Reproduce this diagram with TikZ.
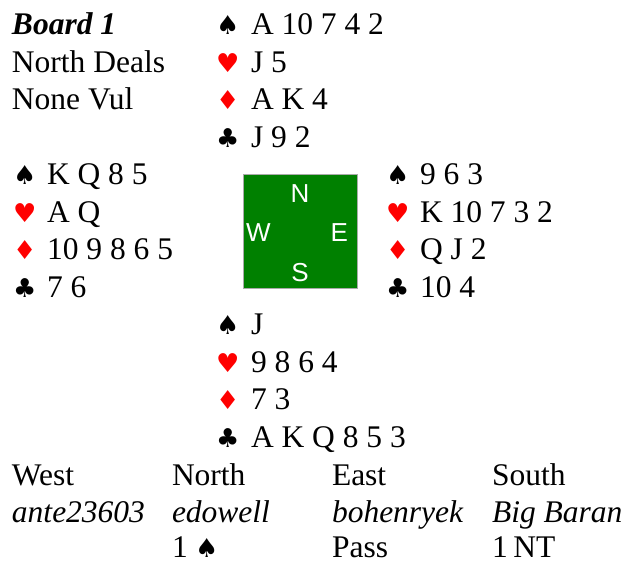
\documentclass[tikz,border=0pt]{standalone}
\usepackage{fontspec}
\setmainfont{Liberation Serif}
\newfontfamily\suitfont{DejaVu Sans}
\newfontfamily\compassfont{Liberation Sans}
\definecolor{felt}{HTML}{008000}
\definecolor{feltedge}{HTML}{AAAAAA}
\definecolor{suitred}{HTML}{FF0000}
\tikzset{
  txt/.style={anchor=base west, inner sep=0pt, outer sep=0pt, font=\fontsize{31.5}{37}\selectfont},
  suitsym/.style={anchor=base west, inner sep=0pt, outer sep=0pt, font=\suitfont\fontsize{26}{30}\selectfont},
  redsuit/.style={suitsym, text=suitred},
  compass/.style={inner sep=0pt, outer sep=0pt, text=white, font=\compassfont\fontsize{26}{30}\selectfont},
  table/.style={fill=felt, draw=feltedge, line width=1pt}
}
\begin{document}
\begin{tikzpicture}[x=1pt,y=1pt]
\useasboundingbox (0,0) rectangle (626,-563);
% header
\node[txt, font=\fontsize{31.5}{37}\selectfont\bfseries\itshape] (board) at (12,-34.5) {Board 1};
\node[txt] (deals) at (12,-72) {North Deals};
\node[txt] (vul) at (12,-109.5) {None Vul};
% North
\node[suitsym] (ns) at (216,-34.5) {♠};
\node[txt] (nst) at (251,-34.5) {A 10 7 4 2};
\node[redsuit] (nh) at (216,-72) {♥};
\node[txt] (nht) at (251,-72) {J 5};
\node[redsuit] (nd) at (216,-109.5) {♦};
\node[txt] (ndt) at (251,-109.5) {A K 4};
\node[suitsym] (nc) at (216,-147) {♣};
\node[txt] (nct) at (251,-147) {J 9 2};
% West
\node[suitsym] (ws) at (13,-184.5) {♠};
\node[txt] (wst) at (47,-184.5) {K Q 8 5};
\node[redsuit] (wh) at (13,-222) {♥};
\node[txt] (wht) at (47,-222) {A Q};
\node[redsuit] (wd) at (13,-259.5) {♦};
\node[txt] (wdt) at (47,-259.5) {10 9 8 6 5};
\node[suitsym] (wc) at (13,-297) {♣};
\node[txt] (wct) at (47,-297) {7 6};
% East
\node[suitsym] (es) at (386,-184.5) {♠};
\node[txt] (est) at (420,-184.5) {9 6 3};
\node[redsuit] (eh) at (386,-222) {♥};
\node[txt] (eht) at (420,-222) {K 10 7 3 2};
\node[redsuit] (ed) at (386,-259.5) {♦};
\node[txt] (edt) at (420,-259.5) {Q J 2};
\node[suitsym] (ec) at (386,-297) {♣};
\node[txt] (ect) at (420,-297) {10 4};
% South
\node[suitsym] (ss) at (216,-334.5) {♠};
\node[txt] (sst) at (251,-334.5) {J};
\node[redsuit] (sh) at (216,-372) {♥};
\node[txt] (sht) at (251,-372) {9 8 6 4};
\node[redsuit] (sd) at (216,-409.5) {♦};
\node[txt] (sdt) at (251,-409.5) {7 3};
\node[suitsym] (sc) at (216,-447) {♣};
\node[txt] (sct) at (251,-447) {A K Q 8 5 3};
% table
\node[table, minimum width=114pt, minimum height=114pt, inner sep=0pt] (tbl) at (300,-231) {};
\node[compass, anchor=base] (cn) at (300,-202) {N};
\node[compass, anchor=base west] (cw) at (246,-241.5) {W};
\node[compass, anchor=base east] (ce) at (348,-241.5) {E};
\node[compass, anchor=base] (cs) at (300,-281) {S};
% auction
\node[txt] (hw) at (12,-485.5) {West};
\node[txt] (hn) at (172,-485.5) {North};
\node[txt] (he) at (332,-485.5) {East};
\node[txt] (hs) at (492,-485.5) {South};
\node[txt, font=\fontsize{31.5}{37}\selectfont\itshape] (pw) at (12,-522.5) {ante23603};
\node[txt, font=\fontsize{31.5}{37}\selectfont\itshape] (pn) at (172,-522.5) {edowell};
\node[txt, font=\fontsize{31.5}{37}\selectfont\itshape] (pe) at (332,-522.5) {bohenryek};
\node[txt, font=\fontsize{31.5}{37}\selectfont\itshape] (ps) at (492,-522.5) {Big Baran};
\node[txt] (bn) at (172,-557.5) {1};
\node[suitsym] (bns) at (195,-557.5) {♠};
\node[txt] (be) at (332,-557.5) {Pass};
\node[txt] (bs) at (492,-557.5) {1\hspace{0.18em}NT};
\end{tikzpicture}
\end{document}
